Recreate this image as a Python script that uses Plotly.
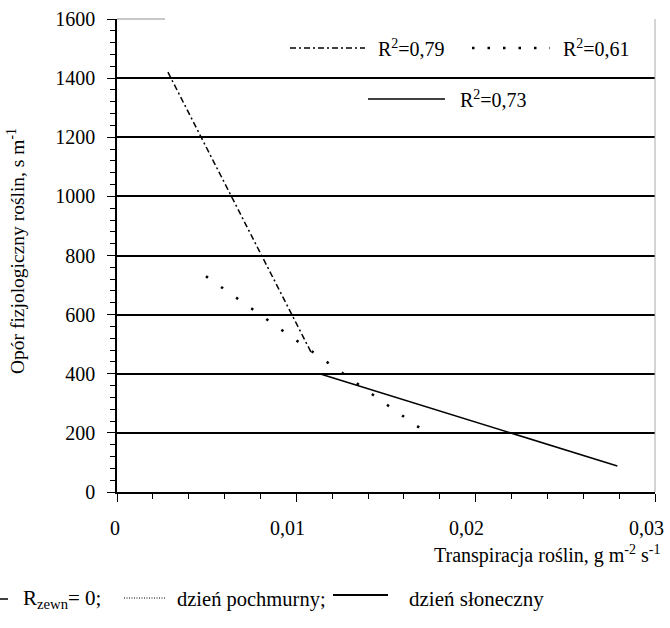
import plotly.graph_objects as go

# Data
rz0_x = [0.00284, 0.01082]
rz0_y = [1420, 473]
pochmurny_x = [0.00496, 0.0175]
pochmurny_y = [730, 190]
sloneczny_x = [0.0113, 0.0279]
sloneczny_y = [400, 88]

x_ticks = [0, 0.01, 0.02, 0.03]
x_tick_labels = ["0", "0,01", "0,02", "0,03"]
y_ticks = [0, 200, 400, 600, 800, 1000, 1200, 1400, 1600]
r2_labels = ["R<sup>2</sup>=0,79", "R<sup>2</sup>=0,61", "R<sup>2</sup>=0,73"]

FONT = "Liberation Serif, Tinos, DejaVu Serif, Noto Serif, serif"
W, H = 670, 628
L, R, T, B = 117, 15, 19, 136
PW = W - L - R
PH = H - T - B


def px(xp):
    return (xp - L) / PW


def py(yp):
    return (H - B - yp) / PH


DASHDOT = "6px,3px,2px,3px"

fig = go.Figure()
fig.add_trace(go.Scatter(x=rz0_x, y=rz0_y, mode="lines",
                         line=dict(color="black", width=1.5, dash=DASHDOT),
                         showlegend=False, hoverinfo="skip"))
fig.add_trace(go.Scatter(x=pochmurny_x, y=pochmurny_y, mode="lines",
                         line=dict(color="black", width=2.5, dash="2.5px,16px"),
                         showlegend=False, hoverinfo="skip"))
fig.add_trace(go.Scatter(x=sloneczny_x, y=sloneczny_y, mode="lines",
                         line=dict(color="black", width=1.5),
                         showlegend=False, hoverinfo="skip"))

shapes = []
# legend box hiding the grid line
shapes.append(dict(type="rect", xref="paper", yref="paper",
                   x0=px(320), x1=px(558), y0=py(112), y1=py(32),
                   fillcolor="white", line=dict(width=0), layer="between"))
# faint start of top border
shapes.append(dict(type="line", xref="paper", yref="paper", x0=0, x1=px(165), y0=1, y1=1,
                   line=dict(color="#c8c8c8", width=2), layer="above"))
# right border
shapes.append(dict(type="line", xref="paper", yref="paper", x0=1, x1=1, y0=0, y1=1,
                   line=dict(color="#aaaaaa", width=1)))
# legend samples
shapes.append(dict(type="line", xref="paper", yref="paper", x0=px(290), x1=px(365),
                   y0=py(48), y1=py(48), line=dict(color="black", width=1.5, dash=DASHDOT)))
shapes.append(dict(type="line", xref="paper", yref="paper", x0=px(472), x1=px(550),
                   y0=py(48), y1=py(48), line=dict(color="black", width=2.5, dash="2.5px,13px")))
shapes.append(dict(type="line", xref="paper", yref="paper", x0=px(368), x1=px(445),
                   y0=py(99), y1=py(99), line=dict(color="black", width=1.5)))
# caption samples
shapes.append(dict(type="line", xref="paper", yref="paper", x0=px(0), x1=px(8),
                   y0=py(599), y1=py(599), line=dict(color="black", width=1.5)))
shapes.append(dict(type="line", xref="paper", yref="paper", x0=px(124), x1=px(166),
                   y0=py(598), y1=py(598), line=dict(color="black", width=1, dash="1px,1.5px")))
shapes.append(dict(type="line", xref="paper", yref="paper", x0=px(333), x1=px(388),
                   y0=py(595), y1=py(595), line=dict(color="black", width=1.8)))

ann = []
# x tick labels (the original's decimal labels sit a little left of their ticks)
for v, t in zip(x_ticks, x_tick_labels):
    ann.append(dict(text=t, xref="x", yref="paper", x=v, y=py(528),
                    xanchor="center", yanchor="middle", showarrow=False,
                    xshift=(-2 if v == 0 else -9), font=dict(size=20)))
ann.append(dict(text=r2_labels[0], xref="paper", yref="paper", x=px(376), y=py(48),
                xanchor="left", yanchor="middle", showarrow=False, font=dict(size=20)))
ann.append(dict(text=r2_labels[1], xref="paper", yref="paper", x=px(561), y=py(48),
                xanchor="left", yanchor="middle", showarrow=False, font=dict(size=20)))
ann.append(dict(text=r2_labels[2], xref="paper", yref="paper", x=px(458), y=py(99),
                xanchor="left", yanchor="middle", showarrow=False, font=dict(size=20)))
ann.append(dict(text="Transpiracja roślin, g m<sup>-2</sup> s<sup>-1</sup>", xref="paper", yref="paper",
                x=px(663), y=py(554), xanchor="right", yanchor="middle", showarrow=False,
                font=dict(size=20)))
ann.append(dict(text="Opór fizjologiczny roślin, s m<sup>-1</sup>", xref="paper", yref="paper",
                x=px(16), y=py(251), xanchor="center", yanchor="middle", textangle=-90,
                showarrow=False, font=dict(size=19.5)))
ann.append(dict(text="R<sub>zewn</sub>= 0;", xref="paper", yref="paper", x=px(21), y=py(599),
                xanchor="left", yanchor="middle", showarrow=False, font=dict(size=21)))
ann.append(dict(text="dzień pochmurny;", xref="paper", yref="paper", x=px(175), y=py(599),
                xanchor="left", yanchor="middle", showarrow=False, font=dict(size=20.5)))
ann.append(dict(text="dzień słoneczny", xref="paper", yref="paper", x=px(407), y=py(599),
                xanchor="left", yanchor="middle", showarrow=False, font=dict(size=21)))

fig.update_layout(
    width=W, height=H,
    margin=dict(l=L, r=R, t=T, b=B, autoexpand=False),
    paper_bgcolor="white", plot_bgcolor="white",
    font=dict(family=FONT, color="black", size=20),
    separators=", ",
    shapes=shapes, annotations=ann,
    showlegend=False,
)
fig.update_xaxes(range=[0, 0.03], tickvals=x_ticks, showticklabels=False,
                 showgrid=False, zeroline=False,
                 showline=True, linecolor="black", linewidth=1.5, automargin=False,
                 ticks="outside", ticklen=8, tickwidth=1.2, tickcolor="black",
                 minor=dict(dtick=0.002, ticks="outside", ticklen=5, tickwidth=1, tickcolor="black",
                            showgrid=False))
fig.update_yaxes(range=[0, 1600], tickvals=y_ticks, showgrid=True, gridcolor="black", gridwidth=1.5,
                 zeroline=False, showline=True, linecolor="black", linewidth=1.5, automargin=False,
                 ticks="outside", ticklen=8, tickwidth=1.2, tickcolor="black",
                 ticklabelstandoff=8, ticklabeloverflow="allow",
                 minor=dict(dtick=40, ticks="outside", ticklen=5, tickwidth=1, tickcolor="black",
                            showgrid=False),
                 tickfont=dict(size=20, family=FONT))

fig.write_html("out.html", config={"displayModeBar": False},
               post_script="document.body.style.margin='0px';")
